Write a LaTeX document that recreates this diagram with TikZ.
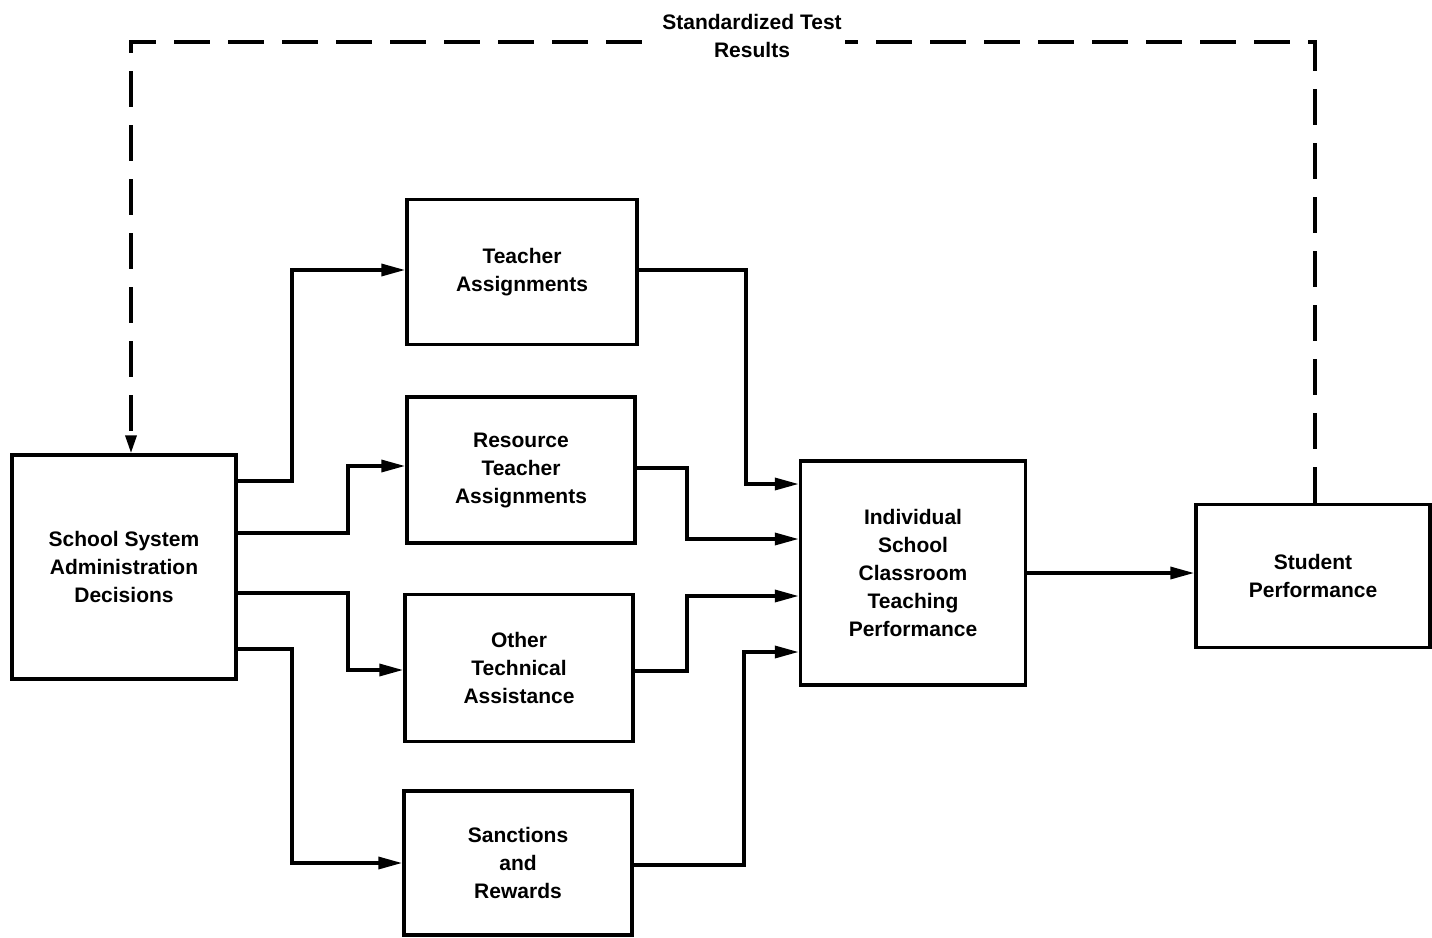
\documentclass[tikz,border=0pt]{standalone}
\usepackage{fontspec}
\setmainfont{Liberation Sans}
\usetikzlibrary{arrows.meta}
\begin{document}
\begin{tikzpicture}[x=1pt,y=-1pt,
  box/.style={draw,line width=3.5pt,rectangle,align=center,
    font=\bfseries\fontsize{21}{28}\selectfont,inner sep=0pt},
  conn/.style={line width=3.5pt,-{Triangle[length=24pt,width=12pt]}},
  feedback/.style={line width=3.5pt,dash pattern=on 36pt off 18pt,
    -{Triangle[length=18pt,width=11pt]}},
  lbl/.style={fill=white,align=center,inner sep=3pt,
    font=\bfseries\fontsize{21}{28}\selectfont}]
\useasboundingbox (0,0) rectangle (1432,937);

% blocks
\node[box,minimum width=224pt,minimum height=224pt] (SS) at (124,567)
  {School System\\Administration\\Decisions};
\node[box,minimum width=230pt,minimum height=145pt] (TA) at (522,272)
  {Teacher\\Assignments};
\node[box,minimum width=228pt,minimum height=146pt] (RTA) at (521,470)
  {Resource\\Teacher\\Assignments};
\node[box,minimum width=228pt,minimum height=147pt] (OTA) at (519,668)
  {Other\\Technical\\Assistance};
\node[box,minimum width=228pt,minimum height=144pt] (SR) at (518,863)
  {Sanctions\\and\\Rewards};
\node[box,minimum width=225pt,minimum height=224pt] (IS) at (913,573)
  {Individual\\School\\Classroom\\Teaching\\Performance};
\node[box,minimum width=234pt,minimum height=143pt] (SP) at (1313,576)
  {Student\\Performance};

% administration decisions fan out to the four programme blocks
\draw[conn] (SS.east |- 0,481) -| (292,270) -- (TA.west |- 0,270);
\draw[conn] (SS.east |- 0,533) -| (348,466) -- (RTA.west |- 0,466);
\draw[conn] (SS.east |- 0,593) -| (348,670) -- (OTA.west |- 0,670);
\draw[conn] (SS.east |- 0,649) -| (292,863) -- (SR.west |- 0,863);

% programme blocks feed classroom teaching
\draw[conn] (TA.east |- 0,270) -| (746,484) -- (IS.west |- 0,484);
\draw[conn] (RTA.east |- 0,468) -| (687,539) -- (IS.west |- 0,539);
\draw[conn] (OTA.east |- 0,671) -| (687,596) -- (IS.west |- 0,596);
\draw[conn] (SR.east |- 0,865) -| (744,652) -- (IS.west |- 0,652);

% teaching drives student performance
\draw[conn] (IS.east |- 0,573) -- (SP.west |- 0,573);

% test results feed back to the administration
\coordinate (fbR) at (1315,42);
\coordinate (fbL) at (131,42);
\draw[feedback] (SP.north -| fbR) -- (fbR) -- (fbL) -- (SS.north -| fbL);
\node[lbl] (res) at (752,36) {Standardized Test\\Results};
\end{tikzpicture}
\end{document}
